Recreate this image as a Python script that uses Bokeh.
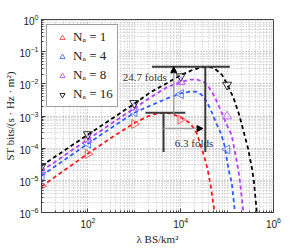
import numpy as np
from bokeh.plotting import figure
from bokeh.models import (FixedTicker, Legend, LegendItem, Arrow,
                          NormalHead, Label)
from bokeh.embed import file_html
from bokeh.resources import INLINE

# ---------------- data (log10 units) ----------------
# dashed curves: log10(lambda [BS/km^2]) and log10(ST [bits/(s Hz m^2)])
red_log_lam = [1.0, 2.0, 2.5, 3.0, 3.28, 3.45, 3.63, 3.8, 4.0, 4.2, 4.28, 4.35,
               4.45, 4.52, 4.58, 4.65, 4.73, 4.77]
red_log_st = [-5.19, -4.17, -3.68, -3.22, -3.02, -2.94, -2.90, -2.93, -3.04,
              -3.22, -3.38, -3.55, -4.0, -4.33, -4.66, -5.2, -6.0, -6.5]

blue_log_lam = [1.0, 2.0, 2.5, 3.0, 3.34, 3.7, 4.0, 4.2, 4.35, 4.49, 4.63, 4.78,
                4.87, 4.95, 5.03, 5.1, 5.17, 5.2]
blue_log_st = [-4.86, -3.86, -3.37, -2.9, -2.68, -2.46, -2.3, -2.24, -2.25,
               -2.38, -2.75, -3.27, -3.55, -3.95, -4.66, -5.07, -6.0, -6.5]

magenta_log_lam = [1.0, 2.0, 2.5, 3.0, 3.34, 3.7, 4.0, 4.2, 4.35, 4.49, 4.59,
                   4.67, 4.78, 4.9, 5.0, 5.1, 5.24, 5.28, 5.35, 5.38]
magenta_log_st = [-4.71, -3.73, -3.24, -2.76, -2.43, -2.11, -1.94, -1.87, -1.87,
                  -1.93, -2.08, -2.24, -2.55, -2.95, -3.3, -3.6, -4.66, -5.07,
                  -6.0, -6.5]

black_log_lam = [1.0, 2.0, 2.5, 3.0, 3.34, 3.7, 4.0, 4.27, 4.42, 4.53, 4.71,
                 4.89, 4.99, 5.14, 5.26, 5.35, 5.45, 5.54, 5.58, 5.64, 5.67]
black_log_st = [-4.55, -3.58, -3.1, -2.62, -2.27, -1.98, -1.73, -1.56, -1.5,
                -1.47, -1.5, -1.72, -1.98, -2.44, -2.96, -3.45, -4.0, -4.66,
                -5.07, -6.0, -6.5]

# simulation markers at lambda = 10, 100, 1e3, 1e4, 1e5
marker_log_lam = [1, 2, 3, 4, 5]
red_marker_log_st = [-5.18, -4.18, -3.25, -3.11]
blue_marker_log_st = [-4.87, -3.86, -2.88, -2.32, -4.04]
magenta_marker_log_st = [-4.71, -3.73, -2.74, -1.94, -3.01]
black_marker_log_st = [-4.56, -3.57, -2.6, -1.77, -2.03]

series_labels = ["N\u2090 = 1", "N\u2090 = 4", "N\u2090 = 8", "N\u2090 = 16"]

x_major_ticks = [1e2, 1e4, 1e6]
y_major_ticks = [1e-6, 1e-5, 1e-4, 1e-3, 1e-2, 1e-1, 1e0]

fold_labels = ["24.7 folds", "6.3 folds"]

# ---------------- figure ----------------
SERIF = "Liberation Serif"
SANS = "Liberation Sans"

p = figure(width=283, height=247, x_axis_type="log", y_axis_type="log",
           x_range=(1e1, 1e6), y_range=(1e-6, 1e0),
           output_backend="svg", toolbar_location=None,
           min_border_left=41, min_border_right=10, min_border_top=19,
           min_border_bottom=34)
p.background_fill_color = "white"
p.border_fill_color = "white"
p.outline_line_color = "#404040"
p.outline_line_width = 1

x_minor = [k * 10.0 ** n for n in range(1, 6) for k in range(1, 10)
           if k * 10.0 ** n not in x_major_ticks]
y_minor = [k * 10.0 ** n for n in range(-6, 0) for k in range(2, 10)]
xt = FixedTicker(ticks=x_major_ticks, minor_ticks=x_minor)
yt = FixedTicker(ticks=y_major_ticks, minor_ticks=y_minor)

p.xaxis.ticker = xt
p.yaxis.ticker = yt
p.xgrid.ticker = xt
p.ygrid.ticker = yt

for g in (p.xgrid, p.ygrid):
    g.grid_line_color = "#a0a0a0"
    g.grid_line_dash = "1 2"
    g.grid_line_width = 1
    g.minor_grid_line_color = "#bdbdbd"
    g.minor_grid_line_dash = "1 2"
    g.minor_grid_line_width = 1

for ax in (p.xaxis[0], p.yaxis[0]):
    ax.axis_line_color = "#404040"
    ax.major_tick_in = 4
    ax.major_tick_out = 0
    ax.minor_tick_in = 2
    ax.minor_tick_out = 0
    ax.major_tick_line_color = "#404040"
    ax.minor_tick_line_color = "#404040"
    ax.major_label_text_font = SANS
    ax.major_label_text_font_size = "10px"
    ax.major_label_text_color = "#222222"
    ax.axis_label_text_font = SERIF
    ax.axis_label_text_font_size = "11px"
    ax.axis_label_text_font_style = "normal"
    ax.axis_label_text_color = "#222222"

p.xaxis.axis_label = "\u03bb BS/km\u00b2"
p.yaxis.axis_label = "ST bits/(s \u00b7 Hz \u00b7 m\u00b2)"
p.xaxis.major_label_standoff = 4
p.xaxis.axis_label_standoff = 2
p.yaxis.major_label_standoff = 3
p.yaxis.axis_label_standoff = 0

# ---------------- curves ----------------
curves = [
    (red_log_lam, red_log_st, red_marker_log_st, "#ff1a1a", "#ff5a5a", "triangle", -90),
    (blue_log_lam, blue_log_st, blue_marker_log_st, "#2f5bff", "#5a7cff", "triangle", 90),
    (magenta_log_lam, magenta_log_st, magenta_marker_log_st, "#b83cff", "#c46cff", "triangle", 0),
    (black_log_lam, black_log_st, black_marker_log_st, "#000000", "#303030", "inverted_triangle", 0),
]

legend_items = []
for (llam, lst, mst, lc, mc, mk, ang), lab in zip(curves, series_labels):
    x = 10.0 ** np.array(llam)
    y = 10.0 ** np.array(lst)
    p.line(x, y, line_color=lc, line_width=1.8, line_dash="4 3")
    mx = 10.0 ** np.array(marker_log_lam[:len(mst)], dtype=float)
    my = 10.0 ** np.array(mst)
    r = p.scatter(mx, my, marker=mk, angle=ang, angle_units="deg", size=9,
                  fill_alpha=0, line_color=mc, line_width=1)
    legend_items.append(LegendItem(label=lab, renderers=[r]))

legend = Legend(items=legend_items, location="top_left", margin=5,
                padding=4, spacing=3, glyph_height=13, glyph_width=22,
                label_height=13, label_standoff=0,
                label_text_font=SERIF, label_text_font_size="13px",
                label_text_color="#222222",
                border_line_color="#404040", border_line_width=1.5,
                background_fill_color="white", background_fill_alpha=1)
p.add_layout(legend)

# ---------------- fold annotations ----------------
i_r = int(np.argmax(red_log_st))
i_k = int(np.argmax(black_log_st))
red_pk_x, red_pk_y = 10.0 ** red_log_lam[i_r], 10.0 ** red_log_st[i_r]
blk_pk_x, blk_pk_y = 10.0 ** black_log_lam[i_k], 10.0 ** black_log_st[i_k]
bar_bottom = 10.0 ** -4.12
BAR = "#3a3a3a"

p.segment(x0=[red_pk_x / 10 ** 0.39, blk_pk_x / 10 ** 1.15],
          y0=[red_pk_y, blk_pk_y],
          x1=[red_pk_x * 10 ** 0.47, blk_pk_x * 10 ** 0.53],
          y1=[red_pk_y, blk_pk_y], line_color=BAR, line_width=2)
p.segment(x0=[red_pk_x, blk_pk_x], y0=[red_pk_y, blk_pk_y],
          x1=[red_pk_x, blk_pk_x], y1=[bar_bottom, bar_bottom],
          line_color=BAR, line_width=2)

head = dict(size=6, fill_color="black", line_color="black")
v_arrow_x = red_pk_x * 10 ** 0.22
p.add_layout(Arrow(end=NormalHead(**head), x_start=v_arrow_x, y_start=red_pk_y,
                   x_end=v_arrow_x, y_end=blk_pk_y,
                   line_color="#a0a0a0", line_width=1.5))
h_arrow_y = 10.0 ** -3.39
p.add_layout(Arrow(end=NormalHead(**head), x_start=red_pk_x, y_start=h_arrow_y,
                   x_end=red_pk_x * 10 ** 0.85, y_end=h_arrow_y,
                   line_color="#a0a0a0", line_width=1.5))

p.add_layout(Label(x=v_arrow_x, y=10.0 ** -1.78, text=fold_labels[0],
                   x_offset=-7, text_align="right", text_baseline="middle",
                   text_font=SERIF, text_font_size="11px", text_color="#333333"))
p.add_layout(Label(x=v_arrow_x, y=10.0 ** -3.85, text=fold_labels[1],
                   x_offset=1, text_align="left", text_baseline="middle",
                   text_font=SERIF, text_font_size="11px", text_color="#333333"))

open("out.html", "w").write(file_html(p, INLINE))
